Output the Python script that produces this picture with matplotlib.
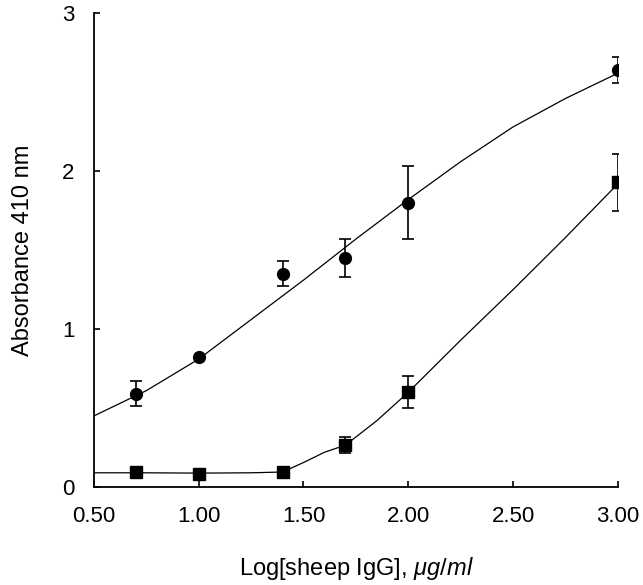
import numpy as np
import matplotlib
matplotlib.use("Agg")
import matplotlib.pyplot as plt

plt.rcParams['font.family'] = ['Liberation Sans', 'DejaVu Sans']
plt.rcParams['mathtext.fontset'] = 'custom'
plt.rcParams['mathtext.rm'] = 'Liberation Sans'
plt.rcParams['mathtext.it'] = 'Liberation Sans:italic'

# log concentration of sheep IgG
log_conc = [0.70, 1.00, 1.40, 1.70, 2.00, 3.00]

# circles
circle_mean = [0.59, 0.82, 1.35, 1.45, 1.80, 2.64]
circle_err = [0.08, 0.0, 0.08, 0.12, 0.23, 0.08]

# squares
square_mean = [0.095, 0.085, 0.095, 0.265, 0.60, 1.93]
square_err = [0.0, 0.0, 0.0, 0.05, 0.10, 0.18]

# fitted curves
circle_fit_x = [0.50, 0.75, 1.00, 1.25, 1.50, 1.75, 2.00, 2.25, 2.50, 2.75, 3.00]
circle_fit_y = [0.45, 0.61, 0.81, 1.06, 1.31, 1.57, 1.82, 2.06, 2.28, 2.46, 2.62]
square_fit_x = [0.50, 0.75, 1.00, 1.25, 1.40, 1.50, 1.60, 1.70, 1.85, 2.00, 2.25, 2.50, 2.75, 3.00]
square_fit_y = [0.09, 0.09, 0.088, 0.09, 0.095, 0.155, 0.22, 0.265, 0.42, 0.60, 0.93, 1.25, 1.58, 1.92]

fig = plt.figure(figsize=(6.43, 5.85), dpi=100)
ax = fig.add_axes([0.146, 0.1675, 0.815, 0.81])

ax.plot(circle_fit_x, circle_fit_y, color='black', lw=0.9)
ax.plot(square_fit_x, square_fit_y, color='black', lw=0.9)

ax.errorbar(log_conc, circle_mean, yerr=circle_err, fmt='o', color='black',
            ms=8.5, elinewidth=1.2, capsize=4, capthick=1.2)
ax.errorbar(log_conc, square_mean, yerr=square_err, fmt='s', color='black',
            ms=8, elinewidth=1.2, capsize=4, capthick=1.2)

ax.set_xlim(0.5, 3.0)
ax.set_ylim(0, 3)
ax.set_xticks([0.5, 1.0, 1.5, 2.0, 2.5, 3.0])
ax.set_xticklabels(['0.50', '1.00', '1.50', '2.00', '2.50', '3.00'])
ax.set_yticks([0, 1, 2, 3])

for s in ['top', 'right']:
    ax.spines[s].set_visible(False)
for s in ['left', 'bottom']:
    ax.spines[s].set_linewidth(1.3)
ax.spines['left'].set_bounds(0, 3)
ax.spines['bottom'].set_bounds(0.5, 3.0)

ax.tick_params(direction='in', length=4, width=1.2, labelsize=16)
ax.tick_params(axis='x', pad=14)
ax.tick_params(axis='y', pad=14)

ax.set_xlabel(r'Log[sheep IgG], $\mu g/ml$', fontsize=17, labelpad=20)
ax.set_ylabel('Absorbance 410 nm', fontsize=17, labelpad=20)

plt.savefig('out.png', dpi=100)
